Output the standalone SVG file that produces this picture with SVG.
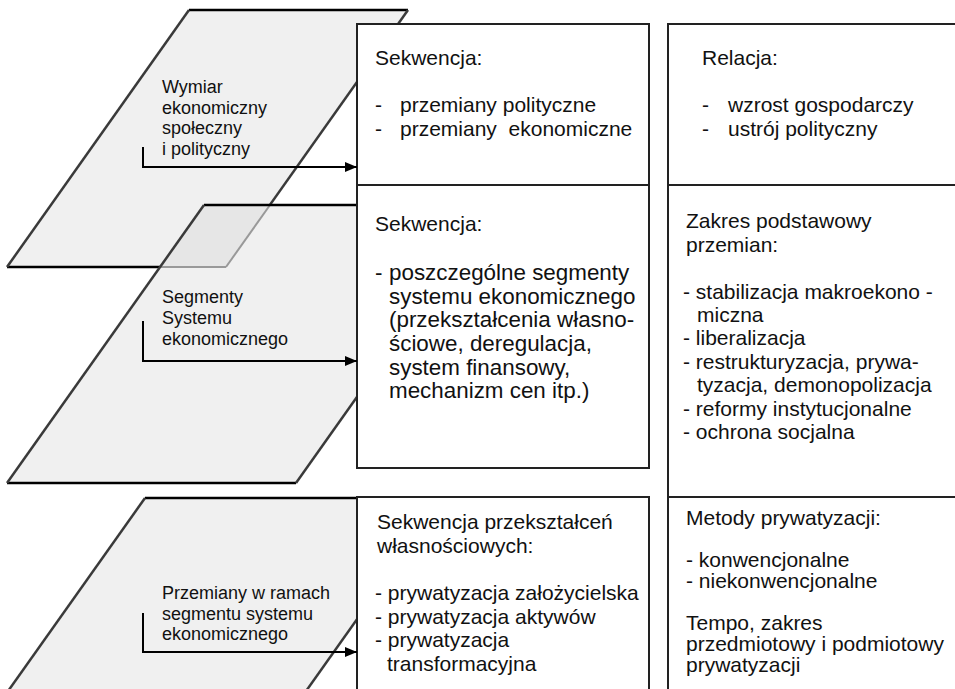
<svg xmlns="http://www.w3.org/2000/svg" width="955" height="689" viewBox="0 0 955 689">
<style>
.bg{fill:#ffffff}
.plane{fill:#f0f0f0;stroke:none}
.overlap{fill:#e6e6e6;stroke:none}
.edge{stroke:#000;stroke-width:2.5;fill:none}
.slant{stroke:#3a3a3a;stroke-width:2.5;fill:none}
.hidden{stroke:#999;stroke-width:2;fill:none}
.box{fill:#fff;stroke:#222;stroke-width:2}
.line{stroke:#222;stroke-width:2;fill:none}
.t{font-family:"Liberation Sans",Arial,sans-serif;font-size:21px;fill:#111}
.tb{font-family:"Liberation Sans",Arial,sans-serif;font-size:22.4px;fill:#111}
.lbl{font-family:"Liberation Sans",Arial,sans-serif;font-size:18px;fill:#111}
.conn{stroke:#000;stroke-width:2;fill:none}
</style>
<defs>
<marker id="arr" markerUnits="userSpaceOnUse" markerWidth="13" markerHeight="11" refX="12" refY="5" orient="auto">
<path d="M0,0 L12,5 L0,10 Z" fill="#000"/>
</marker>
</defs>
<rect class="bg" x="0" y="0" width="955" height="689"/>

<g id="plane1">
<polygon class="plane" points="189,10 408,10 226,267 7,267"/>
<line class="edge" x1="189" y1="10" x2="408" y2="10"/>
<line class="edge" x1="7" y1="267" x2="226" y2="267"/>
<line class="slant" x1="189" y1="10" x2="7" y2="267"/>
<line class="slant" x1="408" y1="10" x2="226" y2="267"/>
<text class="lbl" x="162" y="93">Wymiar</text>
<text class="lbl" x="162" y="113.5">ekonomiczny</text>
<text class="lbl" x="162" y="134">społeczny</text>
<text class="lbl" x="162" y="154.5">i polityczny</text>
</g>

<g id="plane2">
<polygon class="plane" points="204,205 493,205 296,483 7,483"/>
<polygon class="overlap" points="204,205 270,205 226,267 160,267"/>
<line class="hidden" x1="160" y1="267" x2="226" y2="267"/>
<line class="hidden" x1="270" y1="205" x2="226" y2="267"/>
<line class="edge" x1="204" y1="205" x2="493" y2="205"/>
<line class="edge" x1="7" y1="483" x2="296" y2="483"/>
<line class="slant" x1="204" y1="205" x2="7" y2="483"/>
<line class="slant" x1="493" y1="205" x2="296" y2="483"/>
<text class="lbl" x="162" y="303">Segmenty</text>
<text class="lbl" x="162" y="324">Systemu</text>
<text class="lbl" x="162" y="345">ekonomicznego</text>
</g>

<g id="plane3">
<polygon class="plane" points="145,498 443,498 282,725 -16,725"/>
<line class="edge" x1="145" y1="498" x2="443" y2="498"/>
<line class="slant" x1="145" y1="498" x2="-16" y2="725"/>
<line class="slant" x1="443" y1="498" x2="282" y2="725"/>
<text class="lbl" x="162" y="599">Przemiany w ramach</text>
<text class="lbl" x="162" y="619.5">segmentu systemu</text>
<text class="lbl" x="162" y="640">ekonomicznego</text>
</g>

<g id="boxA">
<rect class="box" x="357" y="24" width="292" height="161"/>
<text class="t" x="375" y="65">Sekwencja:</text>
<text class="t" x="375" y="112">-</text>
<text class="t" x="400" y="112">przemiany polityczne</text>
<text class="t" x="375" y="136">-</text>
<text class="t" x="400" y="136" xml:space="preserve">przemiany  ekonomiczne</text>
</g>

<g id="boxB">
<rect class="box" x="357" y="185" width="292" height="283"/>
<text class="t" x="375" y="231">Sekwencja:</text>
<text class="tb" x="375" y="280">-</text>
<text class="tb" x="389" y="280">poszczególne segmenty</text>
<text class="tb" x="389" y="303.7">systemu ekonomicznego</text>
<text class="tb" x="389" y="327.4">(przekształcenia własno-</text>
<text class="tb" x="389" y="351">ściowe, deregulacja,</text>
<text class="tb" x="389" y="374.7">system finansowy,</text>
<text class="tb" x="389" y="398.4">mechanizm cen itp.)</text>
</g>

<g id="boxC">
<path class="box" d="M357,700 L357,497 L649,497 L649,700"/>
<text class="t" x="377" y="529">Sekwencja przekształceń</text>
<text class="t" x="377" y="553">własnościowych:</text>
<text class="t" x="375" y="600">- prywatyzacja założycielska</text>
<text class="t" x="375" y="624">- prywatyzacja aktywów</text>
<text class="t" x="375" y="647">- prywatyzacja</text>
<text class="t" x="387" y="671">transformacyjna</text>
</g>

<g id="colRight">
<path class="line" d="M668,700 L668,24 L960,24"/>
<line class="line" x1="668" y1="185" x2="960" y2="185"/>
<line class="line" x1="668" y1="497" x2="960" y2="497"/>
</g>

<g id="relacja">
<text class="t" x="702" y="65">Relacja:</text>
<text class="t" x="702" y="112">-</text>
<text class="t" x="728" y="112">wzrost gospodarczy</text>
<text class="t" x="702" y="136">-</text>
<text class="t" x="728" y="136">ustrój polityczny</text>
</g>

<g id="zakres">
<text class="t" x="686" y="228">Zakres podstawowy</text>
<text class="t" x="686" y="252">przemian:</text>
<text class="t" x="683" y="299">- stabilizacja makroekono -</text>
<text class="t" x="697" y="322">miczna</text>
<text class="t" x="683" y="345">- liberalizacja</text>
<text class="t" x="683" y="369">- restrukturyzacja, prywa-</text>
<text class="t" x="697" y="392">tyzacja, demonopolizacja</text>
<text class="t" x="683" y="416">- reformy instytucjonalne</text>
<text class="t" x="683" y="439">- ochrona socjalna</text>
</g>

<g id="metody">
<text class="t" x="686" y="525">Metody prywatyzacji:</text>
<text class="t" x="686" y="567">- konwencjonalne</text>
<text class="t" x="686" y="588">- niekonwencjonalne</text>
<text class="t" x="686" y="630">Tempo, zakres</text>
<text class="t" x="686" y="651">przedmiotowy i podmiotowy</text>
<text class="t" x="686" y="672">prywatyzacji</text>
</g>

<g id="connectors">
<path class="conn" d="M143,147 L143,167 L357,167" marker-end="url(#arr)"/>
<path class="conn" d="M143,321 L143,361 L357,361" marker-end="url(#arr)"/>
<path class="conn" d="M143,613 L143,652 L357,652" marker-end="url(#arr)"/>
</g>
</svg>
